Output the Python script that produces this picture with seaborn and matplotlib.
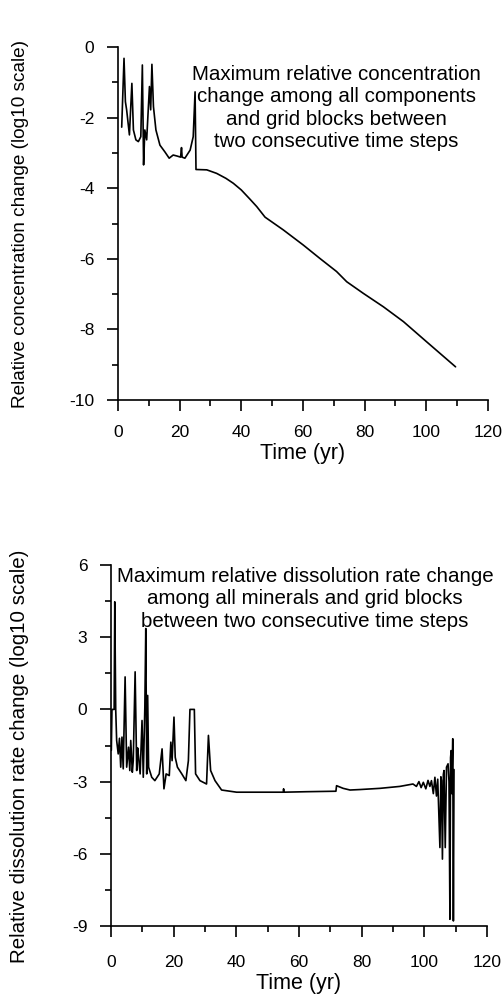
import numpy as np
import pandas as pd
from matplotlib import pyplot as plt
from matplotlib.ticker import MultipleLocator
import seaborn as sns

# top panel: max relative concentration change (log10)
t_conc = [1.2, 1.95, 2.4, 2.8, 3.7, 4.5, 5.0, 5.8, 6.6, 7.4, 7.9, 8.3, 8.7, 9.3,
          10.2, 10.6, 11.0, 11.5, 12.3, 13.6, 15.2, 16.6, 17.9, 19.2, 20.3, 20.6,
          20.8, 21.7, 23.4, 24.4, 25.0, 25.3, 28.8, 32.0, 35.0, 37.4, 40.0, 42.8,
          45.0, 47.7, 53.6, 60.1, 65.5, 70.9, 74.2, 79.6, 86.1, 92.6, 100.1, 109.5]
v_conc = [-2.27, -0.32, -1.55, -1.78, -2.49, -1.03, -2.35, -2.63, -2.68, -2.54,
          -0.51, -3.34, -2.35, -2.63, -1.12, -1.78, -0.49, -1.69, -2.35, -2.78,
          -2.97, -3.15, -3.06, -3.09, -3.12, -2.85, -3.12, -3.15, -2.92, -2.54,
          -1.27, -3.47, -3.48, -3.58, -3.72, -3.86, -4.05, -4.31, -4.52, -4.82,
          -5.18, -5.61, -5.99, -6.36, -6.65, -6.98, -7.36, -7.78, -8.35, -9.06]

# bottom panel: max relative dissolution rate change (log10)
t_diss = [0.1, 0.3, 1.0, 1.2, 1.5, 1.8, 2.3, 2.7, 3.1, 3.5, 3.9, 4.5, 5.0, 5.6,
          6.0, 6.3, 6.8, 7.1, 7.7, 8.2, 8.5, 8.8, 9.3, 9.9, 10.3, 10.8, 11.1,
          11.4, 11.7, 12.0, 13.0, 14.0, 15.4, 16.3, 16.9, 17.6, 18.6, 19.1, 19.5,
          20.1, 20.5, 21.2, 22.6, 23.9, 24.7, 25.2, 26.6, 27.0, 28.4, 30.5, 31.1,
          31.8, 33.2, 35.3, 40.1, 55.0, 55.1, 55.2, 62.4, 71.8, 72.0, 74.1, 76.3,
          79.5, 85.9, 92.2, 96.4, 97.5, 98.3, 99.0, 99.7, 100.5, 101.2, 101.8,
          102.3, 102.9, 103.4, 103.9, 104.3, 105.0, 105.3, 105.5, 105.8, 106.1,
          106.3, 106.7, 107.1, 107.6, 107.9, 108.2, 108.4, 108.6, 108.8, 109.1,
          109.3, 109.5]
v_diss = [-1.7, 0.0, 0.0, 4.47, 0.0, -1.29, -1.85, -1.2, -2.4, -1.15, -2.47, 1.35,
          -2.4, -1.57, -2.54, -1.29, -2.61, -2.13, 1.56, -2.54, -1.6, -1.99, -2.68,
          -0.46, -2.82, 0.1, 3.36, -2.68, 0.58, -2.4, -2.82, -2.96, -2.68, -1.64,
          -3.3, -2.68, -2.75, -1.36, -2.13, -0.32, -1.99, -2.4, -2.68, -2.96, -2.13,
          0.0, 0.0, -2.68, -2.96, -3.1, -1.08, -2.54, -2.96, -3.35, -3.44, -3.44,
          -3.3, -3.44, -3.42, -3.40, -3.17, -3.28, -3.35, -3.33, -3.28, -3.2, -3.1,
          -3.2, -3.0, -3.25, -3.03, -3.3, -2.95, -3.2, -2.96, -3.5, -2.82, -3.6,
          -2.9, -5.74, -2.8, -2.96, -6.22, -2.7, -2.54, -5.74, -2.4, -2.26, -3.0,
          -8.72, -2.0, -1.71, -3.5, -1.22, -8.79, -2.5]

conc = pd.DataFrame({"time": t_conc, "value": v_conc})
diss = pd.DataFrame({"time": t_diss, "value": v_diss})

sns.set_theme(style="ticks")
plt.rcParams['font.family'] = ['Liberation Sans', 'DejaVu Sans']
plt.rcParams['axes.unicode_minus'] = False
for k in ['text.color', 'axes.labelcolor', 'xtick.color', 'ytick.color']:
    plt.rcParams[k] = 'black'

fig = plt.figure(figsize=(5.03, 9.96), dpi=100)
ax1 = fig.add_axes([0.2346, 0.5984, 0.7354, 0.3544])
ax2 = fig.add_axes([0.2207, 0.0703, 0.7473, 0.3624])

sns.lineplot(data=conc, x="time", y="value", ax=ax1, color="black", lw=1.2,
             sort=False, estimator=None)
sns.lineplot(data=diss, x="time", y="value", ax=ax2, color="black", lw=1.2,
             sort=False, estimator=None)

ax1.set_ylim(-10, 0)
ax1.yaxis.set_major_locator(MultipleLocator(2))
ax1.yaxis.set_minor_locator(MultipleLocator(1))
ax2.set_ylim(-9, 6)
ax2.yaxis.set_major_locator(MultipleLocator(3))
ax2.yaxis.set_minor_locator(MultipleLocator(1.5))

for ax, xpad in [(ax1, 10), (ax2, 13)]:
    ax.set_xlim(0, 120)
    ax.xaxis.set_major_locator(MultipleLocator(20))
    ax.xaxis.set_minor_locator(MultipleLocator(10))
    ax.tick_params(which="major", direction="out", length=8, width=1.2,
                   labelsize=12.5, color="black")
    ax.tick_params(which="minor", direction="out", length=4, width=1.2,
                   color="black")
    ax.tick_params(axis="x", which="major", pad=xpad)
    ax.tick_params(axis="y", which="major", pad=9)
    for s in ["left", "bottom"]:
        ax.spines[s].set_linewidth(1.2)
        ax.spines[s].set_color("black")
    sns.despine(ax=ax)
    ax.set_xlabel("Time (yr)", fontsize=15.5, labelpad=2)

ax1.set_ylabel("Relative concentration change (log10 scale)", fontsize=13.7)
ax1.yaxis.set_label_coords(-0.24, 0.5)
ax2.set_ylabel("Relative dissolution rate change (log10 scale)", fontsize=14.8)
ax2.yaxis.set_label_coords(-0.218, 0.47)

ax1.text(0.59, 0.95, "Maximum relative concentration\nchange among all components\n"
         "and grid blocks between\ntwo consecutive time steps",
         transform=ax1.transAxes, ha="center", va="top", fontsize=14.8,
         linespacing=1.23)
ax2.text(0.516, 0.995, "Maximum relative dissolution rate change\n"
         "among all minerals and grid blocks\nbetween two consecutive time steps",
         transform=ax2.transAxes, ha="center", va="top", fontsize=14.8,
         linespacing=1.23)

fig.savefig("out.png", dpi=100)
